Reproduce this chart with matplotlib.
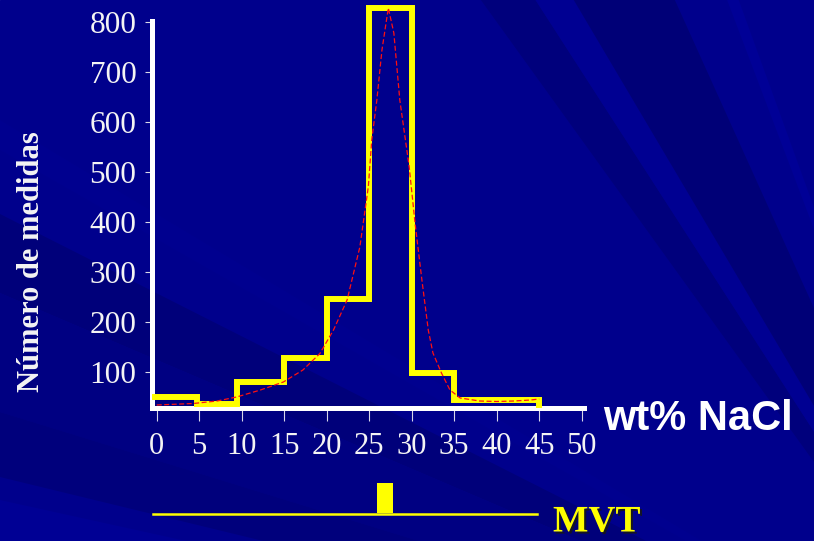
import numpy as np
import matplotlib
matplotlib.use("Agg")
import matplotlib.pyplot as plt
from matplotlib.patches import Polygon, Rectangle
import matplotlib.patheffects as pe

# histogram of salinities (wt% NaCl) and the fitted curve
bin_edges = [-0.5, 4.8, 9.5, 15, 20, 25, 30, 35, 45]
counts = [50, 37, 80, 128, 247, 828, 98, 44]

fit_x = [0, 4.3, 7.1, 9.4, 12.2, 14.9, 17.2, 19.2, 20.8, 22.4, 23.9, 24.9, 25.3,
         25.9, 26.5, 27.25, 27.9, 28.6, 29.7, 30.4, 31.2, 31.95, 32.5, 33.5, 34.5,
         35.7, 38, 40, 42, 44, 45]
fit_y = [34, 37, 42, 50, 64, 80, 104, 137, 184, 244, 350, 471, 564,
         644, 744, 828, 778, 644, 511, 397, 284, 184, 138, 98, 64,
         48, 42, 41, 42, 44, 46]

xticks = list(range(0, 55, 5))
yticks = list(range(100, 900, 100))

# MVT salinity range and the extent of its reference line
mvt_range = (25.9, 27.8)
mvt_line = (-0.45, 44.7)

W, H = 814, 541
fig = plt.figure(figsize=(W / 100, H / 100), dpi=100)

# slide background: blue rays fanning out from the lower right
bg = fig.add_axes([0, 0, 1, 1])
bg.set_xlim(0, W)
bg.set_ylim(H, 0)
bg.axis("off")
bg.add_patch(Rectangle((0, 0), W, H, color="#00008c"))
src = np.array([1000.0, 720.0])
rays = [
    ((0, 214), (0, 293), "#00007a"),
    ((0, 293), (0, 412), "#000082"),
    ((0, 412), (0, 477), "#00007c"),
    ((0, 500), (0, 700), "#000094"),
    ((553, 100), (600, 100), "#00007c"),
    ((600, 100), (633, 100), "#000092"),
    ((633, 100), (720, 100), "#000077"),
    ((765, 100), (775, 100), "#000096"),
    ((0, 120), (0, 150), "#00008f"),
]
for a, b, c in rays:
    pa = src + 4 * (np.array(a) - src)
    pb = src + 4 * (np.array(b) - src)
    bg.add_patch(Polygon([src, pa, pb], closed=True, color=c, lw=0))

# main histogram axes
x0, x1 = -0.6, 50.3
y0, y1 = 28, 840
ax = fig.add_axes([151.6 / W, (H - 408) / H, (x1 - x0) * 8.5 / W, (y1 - y0) * 0.5 / H])
ax.set_facecolor("none")
ax.set_xlim(x0, x1)
ax.set_ylim(y0, y1)

step_x, step_y = [], []
for i, c in enumerate(counts):
    step_x += [bin_edges[i], bin_edges[i + 1]]
    step_y += [c, c]
step_x.append(bin_edges[-1])
step_y.append(y0)
ax.plot(step_x, step_y, color="#ffff00", lw=4.3, solid_joinstyle="miter",
        solid_capstyle="butt", clip_on=False, zorder=3)
ax.plot(fit_x, fit_y, color="#ff1010", lw=0.9, ls=(0, (4, 2)), clip_on=False, zorder=4)

for side in ("top", "right"):
    ax.spines[side].set_visible(False)
for side in ("left", "bottom"):
    ax.spines[side].set_color("white")
    ax.spines[side].set_linewidth(3.6)
ax.spines["left"].set_bounds(y0, 802)

ax.set_xticks(xticks)
ax.set_yticks(yticks)
serif = "Liberation Serif"
ax.set_xticklabels([str(t) for t in xticks], family=serif, fontsize=22, color="#f4f4f4")
ax.set_yticklabels([str(t) for t in yticks], family=serif, fontsize=22.5, color="#f4f4f4")
ax.tick_params(axis="x", direction="out", length=9, width=0.8, color="#d8d8e8", pad=8)
ax.tick_params(axis="y", direction="out", length=5, width=0.8, color="#d8d8e8", pad=6)

fig.text(32 / W, 1 - 262 / H, "Número de medidas", rotation=90, ha="center", va="center",
         family=serif, fontweight="bold", fontsize=22, color="#f4f4f4")
fig.text(603 / W, 1 - 430 / H, "wt% NaCl", ha="left", va="baseline",
         family="Liberation Sans", fontweight="bold", fontsize=30, color="white")

# MVT strip under the x axis
ax2 = fig.add_axes([151.6 / W, (H - 514.3) / H, (x1 - x0) * 8.5 / W, 31.6 / H], sharex=ax)
ax2.axis("off")
ax2.set_ylim(0, 1)
ax2.plot(mvt_line, [0, 0], color="#ffff00", lw=1.8, clip_on=False)
ax2.add_patch(Rectangle((mvt_range[0], 0.05), mvt_range[1] - mvt_range[0], 0.95,
                        color="#ffff00", lw=0, clip_on=False))

fig.text(553 / W, 1.5 / H, "MVT", ha="left", va="bottom", family=serif,
         fontweight="bold", fontsize=27, color="#ffff00",
         path_effects=[pe.SimplePatchShadow(offset=(1.5, -1.5), shadow_rgbFace="#181818",
                                            alpha=0.9), pe.Normal()])

fig.savefig("out.png", dpi=100)
